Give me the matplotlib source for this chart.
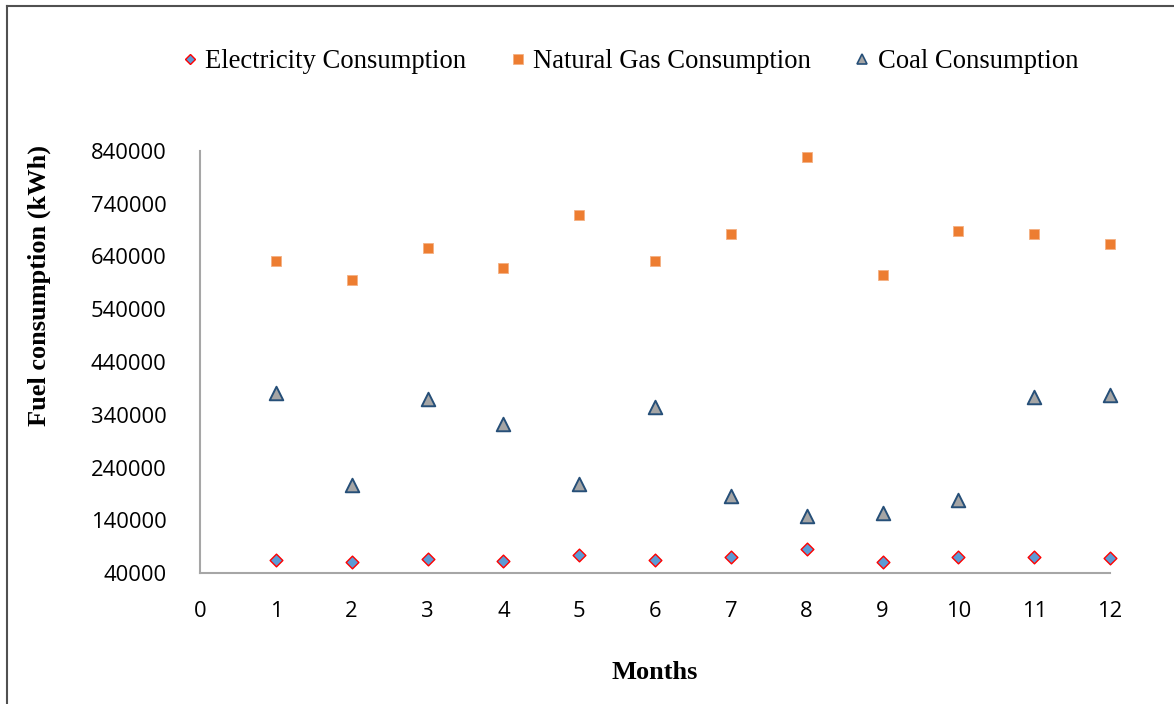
import numpy as np
import matplotlib
matplotlib.use("Agg")
import matplotlib.pyplot as plt
from matplotlib.lines import Line2D

# monthly fuel use (kWh)
months = np.arange(1, 13)
electricity = [65000, 61000, 66500, 63500, 73500, 64000, 70000, 85000, 61500, 70500, 70000, 68000]
natural_gas = [631000, 596000, 657000, 618000, 719000, 632000, 682000, 828000, 605000, 688000, 683000, 663000]
coal = [381000, 206000, 369000, 323000, 208000, 355000, 186000, 148000, 154000, 178000, 374000, 377000]

y_ticks = [40000, 140000, 240000, 340000, 440000, 540000, 640000, 740000, 840000]
x_ticks = list(range(0, 13))

serif = ["Liberation Serif", "DejaVu Serif"]
tickfont = ["Open Sans", "DejaVu Sans"]

fig = plt.figure(figsize=(11.74, 7.04), dpi=100)
ax = fig.add_axes([200/1174, 1-573/704, 910/1174, (573-151)/704])

ax.scatter(months, electricity, marker="D", s=42, facecolor="#5B9BD5",
           edgecolor="#FF0000", linewidth=1.0, zorder=3, clip_on=False)
ax.scatter(months, natural_gas, marker="s", s=62, facecolor="#ED7D31",
           edgecolor="#F4B183", linewidth=0.6, zorder=3, clip_on=False)
ax.scatter(months, coal, marker="^", s=95, facecolor="#A5A5A5",
           edgecolor="#264F78", linewidth=1.4, zorder=3, clip_on=False)

ax.set_xlim(0, 12)
ax.set_ylim(40000, 840000)
ax.set_xticks(x_ticks)
ax.set_yticks(y_ticks)
ax.tick_params(length=0, labelsize=15.8)
ax.tick_params(axis="x", pad=20)
ax.tick_params(axis="y", pad=24)
for lab in ax.get_xticklabels() + ax.get_yticklabels():
    lab.set_family(tickfont)

for side in ["top", "right"]:
    ax.spines[side].set_visible(False)
for side in ["left", "bottom"]:
    ax.spines[side].set_color("#A6A6A6")
    ax.spines[side].set_linewidth(1.5)

ax.set_xlabel("Months", family=serif, fontsize=19, fontweight="bold", labelpad=28)
fig.text(39/1174, 1-285/704, "Fuel consumption (kWh)", family=serif, fontsize=19,
         fontweight="bold", rotation=90, ha="center", va="center")

handles = [
    Line2D([], [], ls="none", marker="D", ms=5.5, mfc="#5B9BD5", mec="#FF0000", mew=1.0),
    Line2D([], [], ls="none", marker="s", ms=6.5, mfc="#ED7D31", mec="#F4B183", mew=0.6),
    Line2D([], [], ls="none", marker="^", ms=7, mfc="#A5A5A5", mec="#264F78", mew=1.2),
]
labels = ["Electricity Consumption", "Natural Gas Consumption", "Coal Consumption"]
fig.legend(handles, labels, loc="center", bbox_to_anchor=(630/1174, 1-62/704), ncol=3,
           frameon=False, prop={"family": serif, "size": 19.2}, handlelength=0.6,
           handletextpad=0.28, columnspacing=1.62)

# outer frame lines on top and left
fig.add_artist(Line2D([7/1174, 7/1174], [0, 1-6/704], color="#505050", lw=1.5))
fig.add_artist(Line2D([7/1174, 1], [1-6/704, 1-6/704], color="#505050", lw=1.5))

fig.savefig("out.png", dpi=100)
